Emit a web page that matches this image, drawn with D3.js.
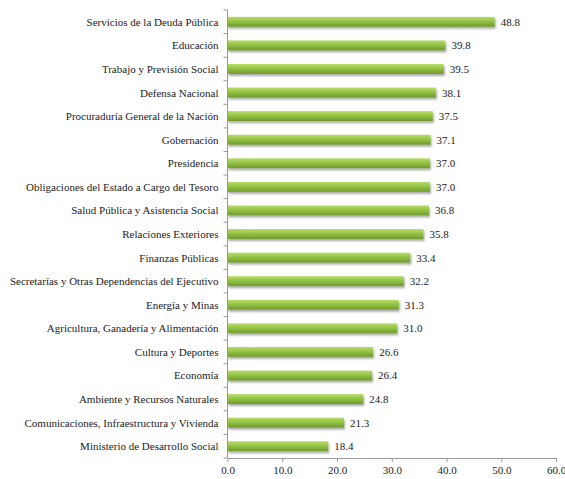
<!DOCTYPE html>
<html><head><meta charset="utf-8">
<script src="https://cdn.jsdelivr.net/npm/d3@7/dist/d3.min.js"></script>
</head><body style="margin:0">
<svg id="c" width="565" height="479"></svg>
<script>
const categories = ["Servicios de la Deuda Pública","Educación","Trabajo y Previsión Social","Defensa Nacional","Procuraduría General de la Nación","Gobernación","Presidencia","Obligaciones del Estado a Cargo del Tesoro","Salud Pública y Asistencia Social","Relaciones Exteriores","Finanzas Públicas","Secretarías y Otras Dependencias del Ejecutivo","Energía y Minas","Agricultura, Ganadería y Alimentación","Cultura y Deportes","Economía","Ambiente y Recursos Naturales","Comunicaciones, Infraestructura y Vivienda","Ministerio de Desarrollo Social"];
const values = [48.8,39.8,39.5,38.1,37.5,37.1,37.0,37.0,36.8,35.8,33.4,32.2,31.3,31.0,26.6,26.4,24.8,21.3,18.4];
const xTicks = [0,10,20,30,40,50,60];

const svg = d3.select("#c");
const pL = 227.5, pR = 556, pT = 10, pB = 458;
const x = d3.scaleLinear().domain([0,60]).range([pL,pR]);
const y = d3.scaleBand().domain(categories).range([pT,pB]).paddingInner(0.58).paddingOuter(0.29);

const defs = svg.append("defs");
const g = defs.append("linearGradient").attr("id","gr").attr("x1",0).attr("y1",0).attr("x2",0).attr("y2",1);
g.append("stop").attr("offset","0%").attr("stop-color","#b8dc6a");
g.append("stop").attr("offset","45%").attr("stop-color","#94c446");
g.append("stop").attr("offset","100%").attr("stop-color","#6f9a2c");
const f = defs.append("filter").attr("id","sh").attr("x","-5%").attr("y","-50%").attr("width","110%").attr("height","250%");
f.append("feGaussianBlur").attr("in","SourceAlpha").attr("stdDeviation",1.2);
f.append("feOffset").attr("dx",1).attr("dy",2).attr("result","b");
f.append("feComponentTransfer").append("feFuncA").attr("type","linear").attr("slope",0.35);
const m = f.append("feMerge"); m.append("feMergeNode"); m.append("feMergeNode").attr("in","SourceGraphic");

function styleText(sel){
  return sel.attr("font-size",11).style("font-family",'"Liberation Serif"').attr("fill","#222");
}

svg.append("g").selectAll("rect").data(values).join("rect")
  .attr("x", x(0)).attr("y",(d,i)=>y(categories[i]))
  .attr("width", d=>x(d)-x(0)).attr("height", y.bandwidth())
  .attr("fill","url(#gr)").attr("filter","url(#sh)");

// value labels
const vl = svg.append("g");
values.forEach((d,i)=>{
  styleText(vl.append("text")
    .attr("x",x(d)+6).attr("y",y(categories[i])+y.bandwidth()/2+4))
    .text(d.toFixed(1));
});

// y axis
const ya = svg.append("g");
ya.append("line").attr("x1",pL).attr("x2",pL).attr("y1",pT).attr("y2",pB).attr("stroke","#999");
const step = (pB-pT)/categories.length;
ya.selectAll("line.t").data(d3.range(categories.length+1)).join("line").attr("class","t")
  .attr("x1",pL-4).attr("x2",pL).attr("y1",i=>pT+i*step).attr("y2",i=>pT+i*step).attr("stroke","#999");
categories.forEach(c=>{
  styleText(ya.append("text")
    .attr("x",pL-9).attr("y",y(c)+y.bandwidth()/2+4)
    .attr("text-anchor","end"))
    .text(c);
});

// x axis
const xa = svg.append("g").attr("transform",`translate(0,${pB})`)
  .call(d3.axisBottom(x).tickValues(xTicks).tickFormat(d3.format(".1f")).tickSize(4).tickSizeOuter(0));
xa.attr("font-family",null).attr("font-size",null);
xa.select(".domain").attr("stroke","#999");
xa.selectAll(".tick line").attr("stroke","#999");
styleText(xa.selectAll(".tick text")).attr("y",16).attr("dy",null);
</script>
</body></html>
